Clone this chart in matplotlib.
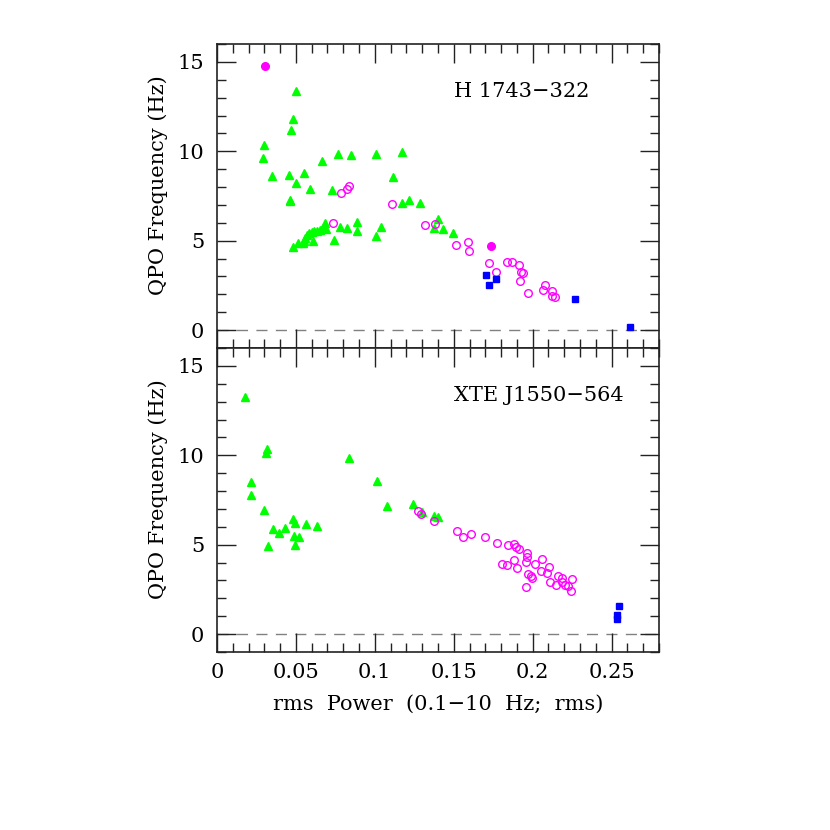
import numpy as np
import matplotlib.pyplot as plt
from matplotlib.ticker import MultipleLocator

# H 1743-322 (top panel)
h_tri_x = [0.050, 0.0479, 0.0466, 0.0300, 0.0291, 0.0348, 0.0458, 0.0553, 0.0498,
           0.0587, 0.0464, 0.0464, 0.0667, 0.0764, 0.0852, 0.1008, 0.1173, 0.1116,
           0.0726, 0.1175, 0.1215, 0.0479, 0.0515, 0.0546, 0.0551, 0.0559, 0.0572,
           0.0584, 0.0601, 0.0616, 0.0631, 0.0652, 0.0669, 0.0684, 0.0690, 0.0606,
           0.0742, 0.0778, 0.0825, 0.0886, 0.0886, 0.1008, 0.1038, 0.1289, 0.1403,
           0.1375, 0.1435, 0.1494]
h_tri_y = [13.36, 11.79, 11.21, 10.33, 9.63, 8.64, 8.66, 8.79, 8.21,
           7.87, 7.27, 7.20, 9.46, 9.83, 9.77, 9.83, 9.96, 8.58,
           7.82, 7.12, 7.27, 4.64, 4.89, 4.85, 5.00, 5.15, 5.33,
           5.41, 5.47, 5.52, 5.56, 5.61, 5.69, 5.97, 5.65, 4.96,
           5.02, 5.78, 5.71, 6.02, 5.52, 5.26, 5.78, 7.12, 6.21,
           5.69, 5.67, 5.43]
h_circ_x = [0.0732, 0.0783, 0.0821, 0.0835, 0.1108, 0.1321, 0.1380, 0.1513, 0.1591,
            0.1595, 0.1725, 0.1768, 0.1840, 0.1869, 0.1914, 0.1924, 0.1939, 0.1918,
            0.1968, 0.2076, 0.2065, 0.2122, 0.2122, 0.2139]
h_circ_y = [5.99, 7.65, 7.87, 8.06, 7.03, 5.86, 5.93, 4.74, 4.92,
            4.42, 3.75, 3.25, 3.82, 3.82, 3.64, 3.25, 3.17, 2.76,
            2.09, 2.54, 2.22, 2.17, 1.92, 1.85]
h_dot_x = [0.0304, 0.1734]
h_dot_y = [14.76, 4.70]
h_sq_x = [0.1703, 0.1722, 0.1770, 0.2268, 0.2616]
h_sq_y = [3.08, 2.50, 2.84, 1.72, 0.15]

# XTE J1550-564 (bottom panel)
x_tri_x = [0.0179, 0.0318, 0.0312, 0.0835, 0.0215, 0.0215, 0.1015, 0.1080, 0.0295,
           0.0479, 0.0494, 0.0565, 0.0631, 0.0352, 0.0432, 0.0392, 0.0489, 0.0519,
           0.0492, 0.0325, 0.1241, 0.1302, 0.1375, 0.1399]
x_tri_y = [13.26, 10.35, 10.15, 9.87, 8.51, 7.76, 8.56, 7.16, 6.94,
           6.44, 6.21, 6.16, 6.03, 5.88, 5.95, 5.67, 5.50, 5.45,
           5.00, 4.94, 7.26, 6.83, 6.60, 6.53]
x_circ_x = [0.1274, 0.1295, 0.1375, 0.1523, 0.1561, 0.1608, 0.1700, 0.1774, 0.1842,
            0.1880, 0.1892, 0.1914, 0.1962, 0.1966, 0.1960, 0.1884, 0.1804, 0.1837,
            0.1901, 0.2015, 0.2057, 0.2053, 0.2101, 0.2093, 0.1968, 0.1987, 0.1994,
            0.1960, 0.2108, 0.2163, 0.2186, 0.2186, 0.2146, 0.2205, 0.2226, 0.2251,
            0.2245]
x_circ_y = [6.87, 6.70, 6.31, 5.76, 5.41, 5.61, 5.41, 5.07, 5.00,
            5.04, 4.85, 4.74, 4.52, 4.33, 4.01, 4.16, 3.90, 3.88,
            3.71, 3.93, 4.21, 3.53, 3.73, 3.43, 3.36, 3.23, 3.15,
            2.61, 2.89, 3.23, 3.12, 2.89, 2.74, 2.72, 2.67, 3.08,
            2.39]
x_sq_x = [0.2548, 0.2532, 0.2532]
x_sq_y = [1.55, 1.06, 0.84]

plt.rcParams['font.family'] = 'DejaVu Serif'

fig = plt.figure(figsize=(8.3, 8.3), dpi=100)
ax1 = fig.add_axes([0.2614, 0.5807, 0.5325, 0.3663])
ax2 = fig.add_axes([0.2614, 0.2145, 0.5325, 0.3662])

def style(ax):
    ax.set_xlim(0, 0.28)
    ax.set_ylim(-1, 16)
    ax.axhline(0, color='gray', lw=1, ls=(0, (8, 6)), zorder=0)
    ax.xaxis.set_major_locator(MultipleLocator(0.05))
    ax.xaxis.set_minor_locator(MultipleLocator(0.01))
    ax.yaxis.set_major_locator(MultipleLocator(5))
    ax.yaxis.set_minor_locator(MultipleLocator(1))
    ax.tick_params(which='both', direction='in', top=True, right=True,
                   width=1.0, labelsize=15, color='#222222')
    ax.tick_params(which='major', length=14)
    ax.tick_params(which='minor', length=6.5)
    ax.tick_params(axis='x', pad=8)
    ax.tick_params(axis='y', pad=9)
    for s in ax.spines.values():
        s.set_linewidth(1.2)
        s.set_color('#222222')
    ax.set_ylabel('QPO Frequency (Hz)', fontsize=15)
    ax.yaxis.set_label_coords(-0.11, 0.535)

ms = 5.5
style(ax1)
ax1.plot(h_tri_x, h_tri_y, '^', color='#00ff00', ms=ms, mec='#00ff00', ls='none')
ax1.plot(h_circ_x, h_circ_y, 'o', mfc='none', mec='#ff00ff', ms=ms, mew=1, ls='none')
ax1.plot(h_dot_x, h_dot_y, 'o', color='#ff00ff', ms=ms, ls='none')
ax1.plot(h_sq_x, h_sq_y, 's', color='#0000ff', ms=5, ls='none')
ax1.text(0.193, 13.37, 'H 1743\u2212322', fontsize=15, ha='center', va='center')
ax1.tick_params(labelbottom=False)

style(ax2)
ax2.plot(x_tri_x, x_tri_y, '^', color='#00ff00', ms=ms, mec='#00ff00', ls='none')
ax2.plot(x_circ_x, x_circ_y, 'o', mfc='none', mec='#ff00ff', ms=ms, mew=1, ls='none')
ax2.plot(x_sq_x, x_sq_y, 's', color='#0000ff', ms=5, ls='none')
ax2.text(0.204, 13.37, 'XTE J1550\u2212564', fontsize=15, ha='center', va='center')
ax2.set_xticks([0, 0.05, 0.1, 0.15, 0.2, 0.25])
ax2.set_xticklabels(['0', '0.05', '0.1', '0.15', '0.2', '0.25'])
ax2.set_xlabel('rms  Power  (0.1\u221210  Hz;  rms)', fontsize=15, labelpad=9)

fig.savefig('out.png', dpi=100)
